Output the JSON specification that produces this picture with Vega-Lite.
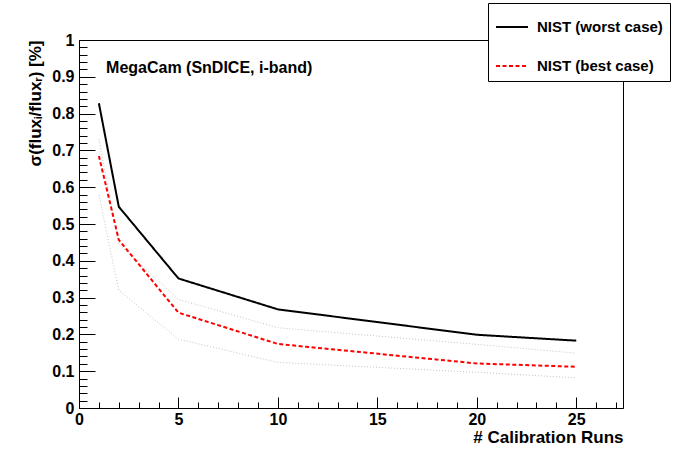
{
  "$schema": "https://vega.github.io/schema/vega-lite/v6.json",
  "autosize": {"type": "none"},
  "width": 544,
  "height": 368,
  "padding": {"left": 79, "top": 40, "right": 77, "bottom": 42},
  "background": "white",
  "config": {
    "view": {"stroke": "black", "strokeWidth": 1},
    "font": "Liberation Sans",
    "axis": {"grid": false, "domainColor": "black", "tickColor": "black", "tickWidth": 1, "labelFont": "Liberation Sans", "labelFontWeight": "bold", "labelColor": "black", "titleFont": "Liberation Sans", "titleFontWeight": "bold", "titleColor": "black", "labelFlush": false, "labelOverlap": false}
  },
  "datasets": {
    "curves": [
      {"runs": 1, "sigma": 0.828, "series": "NIST (worst case)"},
      {"runs": 2, "sigma": 0.547, "series": "NIST (worst case)"},
      {"runs": 5, "sigma": 0.352, "series": "NIST (worst case)"},
      {"runs": 10, "sigma": 0.268, "series": "NIST (worst case)"},
      {"runs": 20, "sigma": 0.199, "series": "NIST (worst case)"},
      {"runs": 25, "sigma": 0.183, "series": "NIST (worst case)"},
      {"runs": 1, "sigma": 0.685, "series": "NIST (best case)"},
      {"runs": 2, "sigma": 0.457, "series": "NIST (best case)"},
      {"runs": 5, "sigma": 0.259, "series": "NIST (best case)"},
      {"runs": 10, "sigma": 0.174, "series": "NIST (best case)"},
      {"runs": 20, "sigma": 0.121, "series": "NIST (best case)"},
      {"runs": 25, "sigma": 0.112, "series": "NIST (best case)"},
      {"runs": 1, "sigma": 0.730, "series": "upper"},
      {"runs": 2, "sigma": 0.445, "series": "upper"},
      {"runs": 5, "sigma": 0.295, "series": "upper"},
      {"runs": 10, "sigma": 0.218, "series": "upper"},
      {"runs": 20, "sigma": 0.173, "series": "upper"},
      {"runs": 25, "sigma": 0.149, "series": "upper"},
      {"runs": 1, "sigma": 0.579, "series": "lower"},
      {"runs": 2, "sigma": 0.320, "series": "lower"},
      {"runs": 5, "sigma": 0.187, "series": "lower"},
      {"runs": 10, "sigma": 0.124, "series": "lower"},
      {"runs": 20, "sigma": 0.097, "series": "lower"},
      {"runs": 25, "sigma": 0.082, "series": "lower"}
    ],
    "note": [
      {"runs": 1.36, "sigma": 0.91, "label": "MegaCam (SnDICE, i-band)"}
    ]
  },
  "layer": [
    {
      "data": {"name": "curves"},
      "transform": [{"filter": "datum.series === 'upper' || datum.series === 'lower'"}],
      "mark": {"type": "line", "color": "#c4c4c4", "strokeWidth": 1, "strokeDash": [1, 2]},
      "encoding": {
        "x": {"field": "runs", "type": "quantitative", "scale": {"domain": [0, 27.35], "nice": false, "zero": false},
          "axis": {"orient": "bottom", "values": [0,1,2,3,4,5,6,7,8,9,10,11,12,13,14,15,16,17,18,19,20,21,22,23,24,25,26,27], "tickSize": -6, "labels": false, "domain": false, "title": null}},
        "y": {"field": "sigma", "type": "quantitative", "scale": {"domain": [0, 1], "nice": false, "zero": false},
          "axis": {"orient": "left", "values": [0,0.02,0.04,0.06,0.08,0.1,0.12,0.14,0.16,0.18,0.2,0.22,0.24,0.26,0.28,0.3,0.32,0.34,0.36,0.38,0.4,0.42,0.44,0.46,0.48,0.5,0.52,0.54,0.56,0.58,0.6,0.62,0.64,0.66,0.68,0.7,0.72,0.74,0.76,0.78,0.8,0.82,0.84,0.86,0.88,0.9,0.92,0.94,0.96,0.98,1], "tickSize": -8, "labels": false, "domain": false, "title": null}},
        "detail": {"field": "series"}
      }
    },
    {
      "data": {"name": "curves"},
      "transform": [{"filter": "datum.series !== 'upper' && datum.series !== 'lower'"}],
      "mark": {"type": "line", "strokeWidth": 2},
      "encoding": {
        "x": {"field": "runs", "type": "quantitative",
          "axis": {"orient": "bottom", "values": [0, 5, 10, 15, 20, 25], "format": "~g", "tickSize": -11, "labelPadding": 14, "labelFontSize": 16, "domainWidth": 1,
            "title": "# Calibration Runs", "titleAnchor": "end", "titleFontSize": 17, "titlePadding": 2}},
        "y": {"field": "sigma", "type": "quantitative",
          "axis": {"orient": "left", "values": [0, 0.1, 0.2, 0.3, 0.4, 0.5, 0.6, 0.7, 0.8, 0.9, 1], "format": "~g", "tickSize": -16, "labelPadding": 21, "labelFontSize": 16,
            "title": "σ(fluxᵢ/fluxᵣ) [%]", "titleAnchor": "end", "titleFontSize": 17, "titlePadding": 7}},
        "color": {"field": "series", "type": "nominal", "sort": ["NIST (worst case)", "NIST (best case)"],
          "scale": {"domain": ["NIST (worst case)", "NIST (best case)"], "range": ["black", "#ff0000"]},
          "legend": {"orient": "none", "legendX": 409, "legendY": -37, "title": null, "fillColor": "white", "strokeColor": "black", "padding": 7,
            "symbolType": "stroke", "symbolSize": 1024, "symbolStrokeWidth": 2, "labelFont": "Liberation Sans", "labelFontWeight": "bold", "labelFontSize": 15, "labelColor": "black", "labelOffset": 8, "rowPadding": 14, "labelLimit": 300,
            "labelExpr": "datum.label + '\u00a0\u00a0'"}},
        "strokeDash": {"field": "series", "type": "nominal", "sort": ["NIST (worst case)", "NIST (best case)"],
          "scale": {"domain": ["NIST (worst case)", "NIST (best case)"], "range": [[1, 0], [4, 2.5]]}, "legend": null}
      }
    },
    {
      "data": {"name": "note"},
      "mark": {"type": "text", "align": "left", "baseline": "alphabetic", "font": "Liberation Sans", "fontWeight": "bold", "fontSize": 16, "color": "black"},
      "encoding": {
        "x": {"field": "runs", "type": "quantitative", "axis": null},
        "y": {"field": "sigma", "type": "quantitative", "axis": null},
        "text": {"field": "label"}
      }
    }
  ],
  "resolve": {"axis": {"x": "independent", "y": "independent"}}
}
